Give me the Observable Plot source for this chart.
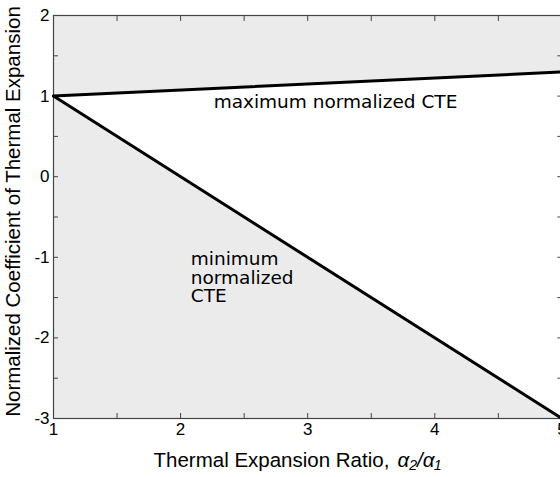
<!DOCTYPE html>
<html><head>
<meta charset="utf-8">
<script src="https://cdn.jsdelivr.net/npm/d3@7"></script>
<script src="https://cdn.jsdelivr.net/npm/@observablehq/plot@0.6"></script>
<style>body{margin:0;background:#fff}</style>
</head><body><div id="chart"></div>
<script>
const ratio = [1, 5];
const maxCTE = [1, 1.3];
const minCTE = [1, -3];
const xTicks = [1, 2, 3, 4, 5];
const yTicks = [-3, -2, -1, 0, 1, 2];
const xMinor = [1, 1.5, 2, 2.5, 3, 3.5, 4, 4.5, 5];
const yMinor = [-3, -2.5, -2, -1.5, -1, -0.5, 0, 0.5, 1, 1.5, 2];
const yTop = 2, yBottom = -3;
const labels = [
  {x: 2.26, y: 0.92, text: "maximum normalized CTE"},
  {x: 2.08, y: -1.257, text: "minimum\nnormalized\nCTE"}
];
const xTitle = "Thermal Expansion Ratio,";
const xTitleVar = "α₂/α₁";
const yTitle = "Normalized Coefficient of Thermal Expansion";

const data = ratio.map((r, i) => ({r, max: maxCTE[i], min: minCTE[i]}));
const sans = "'Liberation Sans', Arial, Helvetica, sans-serif";
const frameColor = "#444";
const fmt = d => String(d);

const chart = Plot.plot({
  width: 560,
  height: 477,
  marginLeft: 53,
  marginRight: -1.4,
  marginTop: 15,
  marginBottom: 59,
  style: {fontFamily: sans, background: "#fff", color: "#000"},
  x: {domain: [1, 5]},
  y: {domain: [yBottom, yTop]},
  marks: [
    Plot.areaY(data, {x: "r", y1: "max", y2: yTop, fill: "#ebebeb"}),
    Plot.areaY(data, {x: "r", y1: yBottom, y2: "min", fill: "#ebebeb"}),
    Plot.frame({stroke: frameColor, strokeWidth: 1.2}),
    Plot.axisX(xMinor, {anchor: "bottom", tickSize: -5, tickFormat: () => "", stroke: frameColor, label: null}),
    Plot.axisX(xMinor, {anchor: "top", tickSize: -5, tickFormat: () => "", stroke: frameColor, label: null}),
    Plot.axisY(yMinor, {anchor: "left", tickSize: -5, tickFormat: () => "", stroke: frameColor, label: null}),
    Plot.axisY(yMinor, {anchor: "right", tickSize: -5, tickFormat: () => "", stroke: frameColor, label: null}),
    Plot.axisX(xTicks, {anchor: "bottom", tickSize: 0, tickPadding: 4, tickFormat: fmt, fontSize: 17, fill: "#000", label: null}),
    Plot.axisY(yTicks, {anchor: "left", tickSize: 0, tickPadding: 4, tickFormat: fmt, fontSize: 17, fill: "#000", label: null}),
    Plot.lineY(data, {x: "r", y: "max", stroke: "#000", strokeWidth: 3}),
    Plot.lineY(data, {x: "r", y: "min", stroke: "#000", strokeWidth: 3}),
    Plot.text(labels, {x: "x", y: "y", text: "text", textAnchor: "start", lineAnchor: "middle", fontFamily: "'DejaVu Sans', sans-serif", fontSize: 18.5, lineHeight: 1, fill: "#000"}),
    Plot.text([xTitle], {frameAnchor: "bottom-left", text: d => d, textAnchor: "start", lineAnchor: "middle", dx: 100, dy: 42, fontSize: 20.5, fill: "#000"}),
    Plot.text([xTitleVar], {frameAnchor: "bottom-left", text: d => d, textAnchor: "start", lineAnchor: "middle", dx: 344, dy: 42, fontSize: 20.5, fontStyle: "italic", fill: "#000"}),
    Plot.text([yTitle], {frameAnchor: "left", text: d => d, rotate: -90, textAnchor: "middle", lineAnchor: "middle", dx: -40, dy: -5.5, fontSize: 20.5, fill: "#000"})
  ]
});
document.getElementById("chart").append(chart);
</script>
</body></html>
